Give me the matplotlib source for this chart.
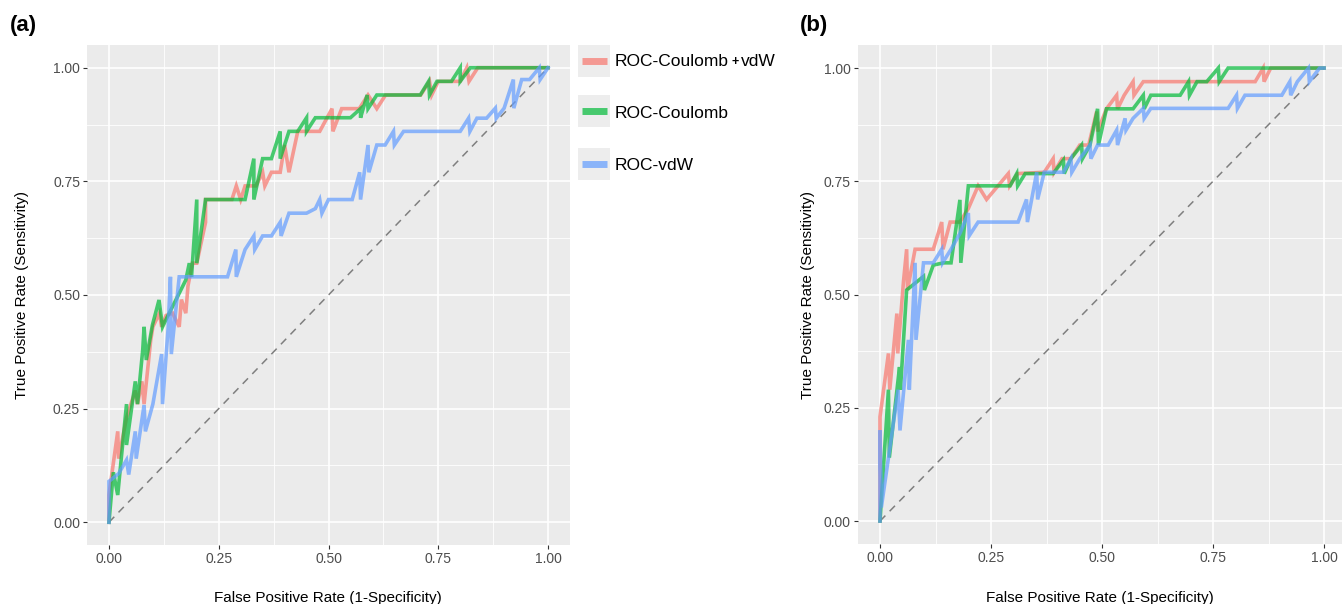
import matplotlib
matplotlib.use('Agg')
import matplotlib.pyplot as plt
import numpy as np
from matplotlib.patches import Rectangle
from matplotlib.lines import Line2D

plt.rcParams['font.family'] = ['Liberation Sans', 'DejaVu Sans']

W, H = 1342, 604

SERIES_NAMES = ['ROC-Coulomb + vdW', 'ROC-Coulomb', 'ROC-vdW']
COLORS = ['#F8766D', '#00BA38', '#619CFF']
TICKS = [0.0, 0.25, 0.5, 0.75, 1.0]
TICK_LABELS = ['0.00', '0.25', '0.50', '0.75', '1.00']

# ---- panel (a) ----
fpr_a_cv = [0, 0.0, 0.02, 0.022, 0.04, 0.05, 0.06, 0.065, 0.075, 0.08, 0.095, 0.10,
            0.115, 0.12, 0.13, 0.145, 0.16, 0.165, 0.175, 0.18, 0.19, 0.20, 0.22, 0.22,
            0.28, 0.29, 0.30, 0.31, 0.335, 0.35, 0.355, 0.37, 0.39, 0.40, 0.41, 0.43,
            0.48, 0.508, 0.51, 0.53, 0.57, 0.59, 0.61, 0.63, 0.71, 0.73, 0.735, 0.75,
            0.80, 0.815, 0.82, 0.84, 1.0]
tpr_a_cv = [0, 0.06, 0.20, 0.14, 0.23, 0.26, 0.29, 0.26, 0.31, 0.26, 0.40, 0.43,
            0.46, 0.43, 0.455, 0.46, 0.43, 0.49, 0.46, 0.52, 0.57, 0.57, 0.66, 0.71,
            0.71, 0.74, 0.71, 0.74, 0.74, 0.77, 0.74, 0.77, 0.77, 0.83, 0.77, 0.86,
            0.86, 0.91, 0.86, 0.91, 0.91, 0.94, 0.91, 0.94, 0.94, 0.97, 0.94, 0.97,
            0.97, 1.0, 0.97, 1.0, 1.0]

fpr_a_c = [0, 0.01, 0.02, 0.04, 0.04, 0.06, 0.065, 0.077, 0.08, 0.085, 0.099, 0.114,
           0.122, 0.133, 0.156, 0.175, 0.183, 0.188, 0.20, 0.20, 0.22, 0.31, 0.33, 0.33,
           0.35, 0.37, 0.39, 0.39, 0.41, 0.43, 0.45, 0.45, 0.47, 0.55, 0.573, 0.573,
           0.588, 0.59, 0.61, 0.709, 0.728, 0.73, 0.747, 0.78, 0.80, 0.80, 0.823, 1.0]
tpr_a_c = [0, 0.11, 0.06, 0.26, 0.17, 0.31, 0.26, 0.38, 0.43, 0.357, 0.434, 0.489,
           0.43, 0.452, 0.496, 0.533, 0.57, 0.54, 0.71, 0.57, 0.71, 0.71, 0.80, 0.71,
           0.80, 0.80, 0.86, 0.80, 0.86, 0.86, 0.89, 0.86, 0.89, 0.89, 0.91, 0.89,
           0.94, 0.91, 0.94, 0.94, 0.97, 0.94, 0.97, 0.97, 1.0, 0.97, 1.0, 1.0]

fpr_a_v = [0, 0, 0.022, 0.04, 0.045, 0.06, 0.062, 0.08, 0.083, 0.10, 0.12, 0.122,
           0.135, 0.14, 0.142, 0.16, 0.27, 0.289, 0.29, 0.31, 0.33, 0.332, 0.35, 0.37,
           0.39, 0.392, 0.41, 0.45, 0.47, 0.48, 0.485, 0.50, 0.554, 0.571, 0.573, 0.59,
           0.592, 0.61, 0.629, 0.648, 0.65, 0.671, 0.80, 0.819, 0.822, 0.838, 0.86, 0.88,
           0.882, 0.90, 0.921, 0.922, 0.94, 0.958, 0.98, 0.982, 1.0]
tpr_a_v = [0, 0.09, 0.107, 0.137, 0.105, 0.20, 0.14, 0.258, 0.20, 0.26, 0.37, 0.26,
           0.43, 0.54, 0.37, 0.54, 0.54, 0.60, 0.54, 0.60, 0.63, 0.60, 0.63, 0.63,
           0.66, 0.63, 0.68, 0.68, 0.69, 0.71, 0.68, 0.71, 0.71, 0.77, 0.71, 0.83,
           0.77, 0.83, 0.83, 0.86, 0.83, 0.86, 0.86, 0.889, 0.86, 0.889, 0.889, 0.911,
           0.889, 0.911, 0.974, 0.911, 0.974, 0.974, 1.0, 0.974, 1.0]

# ---- panel (b) ----
fpr_b_cv = [0, 0, 0.019, 0.022, 0.038, 0.04, 0.053, 0.06, 0.062, 0.079, 0.12, 0.139,
            0.142, 0.158, 0.18, 0.199, 0.221, 0.24, 0.289, 0.292, 0.31, 0.37, 0.39, 0.392,
            0.41, 0.43, 0.45, 0.47, 0.488, 0.49, 0.51, 0.533, 0.535, 0.55, 0.57, 0.572,
            0.593, 0.845, 0.863, 0.865, 0.88, 1.0]
tpr_b_cv = [0, 0.23, 0.37, 0.29, 0.458, 0.37, 0.53, 0.60, 0.51, 0.60, 0.60, 0.66,
            0.60, 0.66, 0.66, 0.69, 0.74, 0.71, 0.767, 0.74, 0.767, 0.77, 0.80, 0.77,
            0.80, 0.80, 0.83, 0.83, 0.904, 0.86, 0.91, 0.94, 0.91, 0.94, 0.97, 0.94,
            0.97, 0.97, 1.0, 0.97, 1.0, 1.0]

fpr_b_c = [0, 0.019, 0.021, 0.044, 0.046, 0.06, 0.098, 0.10, 0.12, 0.143, 0.16, 0.18,
           0.182, 0.199, 0.293, 0.308, 0.31, 0.327, 0.39, 0.413, 0.415, 0.43, 0.454, 0.456,
           0.473, 0.49, 0.492, 0.51, 0.57, 0.593, 0.595, 0.61, 0.676, 0.695, 0.697, 0.714,
           0.736, 0.762, 0.764, 0.784, 1.0]
tpr_b_c = [0, 0.29, 0.14, 0.34, 0.29, 0.51, 0.54, 0.51, 0.565, 0.57, 0.57, 0.709,
           0.57, 0.74, 0.74, 0.767, 0.74, 0.767, 0.767, 0.797, 0.767, 0.80, 0.83, 0.80,
           0.83, 0.91, 0.83, 0.91, 0.91, 0.94, 0.91, 0.94, 0.94, 0.97, 0.94, 0.97,
           0.97, 1.0, 0.97, 1.0, 1.0]

fpr_b_v = [0, 0, 0.003, 0.041, 0.045, 0.064, 0.066, 0.079, 0.081, 0.098, 0.12, 0.139,
           0.141, 0.16, 0.18, 0.199, 0.201, 0.221, 0.311, 0.33, 0.332, 0.353, 0.355, 0.37,
           0.413, 0.43, 0.432, 0.45, 0.473, 0.475, 0.49, 0.514, 0.533, 0.535, 0.552, 0.554,
           0.57, 0.593, 0.595, 0.61, 0.784, 0.803, 0.805, 0.822, 0.905, 0.923, 0.925, 0.94,
           0.965, 0.967, 0.99, 1.0]
tpr_b_v = [0, 0.20, 0.03, 0.29, 0.20, 0.40, 0.29, 0.57, 0.40, 0.57, 0.57, 0.60,
           0.57, 0.60, 0.635, 0.68, 0.63, 0.66, 0.66, 0.71, 0.66, 0.77, 0.71, 0.77,
           0.77, 0.80, 0.77, 0.80, 0.83, 0.80, 0.83, 0.83, 0.863, 0.83, 0.889, 0.863,
           0.889, 0.911, 0.889, 0.911, 0.911, 0.94, 0.911, 0.94, 0.94, 0.97, 0.94, 0.97,
           1.0, 0.97, 1.0, 1.0]


def style_panel(ax, xmax):
    ax.set_facecolor('#EBEBEB')
    ax.set_xlim(-0.05, xmax)
    ax.set_ylim(-0.05, 1.05)
    for s in ax.spines.values():
        s.set_visible(False)
    ax.set_xticks(TICKS)
    ax.set_xticklabels(TICK_LABELS)
    ax.set_yticks(TICKS)
    ax.set_yticklabels(TICK_LABELS)
    minor = [0.125, 0.375, 0.625, 0.875]
    ax.set_xticks(minor, minor=True)
    ax.set_yticks(minor, minor=True)
    ax.tick_params(which='major', length=3, width=0.8, color='#333333',
                   labelcolor='#4D4D4D', labelsize=10, pad=2)
    ax.tick_params(which='minor', length=0)
    ax.grid(which='major', color='white', lw=1.2)
    ax.grid(which='minor', color='white', lw=0.6)
    ax.set_axisbelow(True)
    ax.plot([0, 1], [0, 1], color='#7F7F7F', lw=1.1, dashes=(5, 4))


def draw_curves(ax, curves):
    for (fpr, tpr), col in zip(curves, COLORS):
        ax.plot(fpr, tpr, color=col, lw=2.6, alpha=0.7, solid_joinstyle='miter')


fig = plt.figure(figsize=(W / 100, H / 100), dpi=100)

ax_a = fig.add_axes([87 / W, 1 - 545 / H, 483 / W, 500 / H])
style_panel(ax_a, 1.05)
draw_curves(ax_a, [(fpr_a_cv, tpr_a_cv), (fpr_a_c, tpr_a_c), (fpr_a_v, tpr_a_v)])

xmax_b = (W - 880) / 444
ax_b = fig.add_axes([857.8 / W, 1 - 543.7 / H, (W - 857.8) / W, 498.3 / H])
style_panel(ax_b, xmax_b)
draw_curves(ax_b, [(fpr_b_cv, tpr_b_cv), (fpr_b_c, tpr_b_c), (fpr_b_v, tpr_b_v)])

# axis titles and panel tags
for xc, yl_x in [(328, 22), (1100, 808)]:
    fig.text(xc / W, 1 - 598 / H, 'False Positive Rate (1-Specificity)',
             ha='center', va='center', fontsize=11, color='black')
    fig.text(yl_x / W, 1 - 295 / H, 'True Positive Rate (Sensitivity)',
             ha='center', va='center', rotation=90, fontsize=11, color='black')
fig.text(10 / W, 1 - 25 / H, '(a)', fontsize=16, fontweight='bold', va='center')
fig.text(800 / W, 1 - 25 / H, '(b)', fontsize=16, fontweight='bold', va='center')

# legend drawn by hand (ggplot-style grey keys)
key_tops = [45, 95, 148]
text_y = [61, 113, 166]
for top, ty, col in zip(key_tops, text_y, COLORS):
    fig.add_artist(Rectangle((578 / W, 1 - (top + 32) / H), 32 / W, 32 / H,
                             transform=fig.transFigure, color='#EDEDED', lw=0))
    fig.add_artist(Line2D([582 / W, 607 / W], [1 - (top + 16) / H] * 2,
                          transform=fig.transFigure, color=col, lw=5,
                          alpha=0.7, solid_capstyle='butt'))
fig.text(615 / W, 1 - text_y[0] / H, 'ROC-Coulomb', fontsize=12.5, va='center')
fig.text(731 / W, 1 - (text_y[0] + 1) / H, '+', fontsize=9, fontweight='bold', va='center')
fig.text(741 / W, 1 - text_y[0] / H, 'vdW', fontsize=12.5, va='center')
fig.text(615 / W, 1 - text_y[1] / H, SERIES_NAMES[1], fontsize=12.5, va='center')
fig.text(615 / W, 1 - text_y[2] / H, SERIES_NAMES[2], fontsize=12.5, va='center')

fig.savefig('out.png', dpi=100)
